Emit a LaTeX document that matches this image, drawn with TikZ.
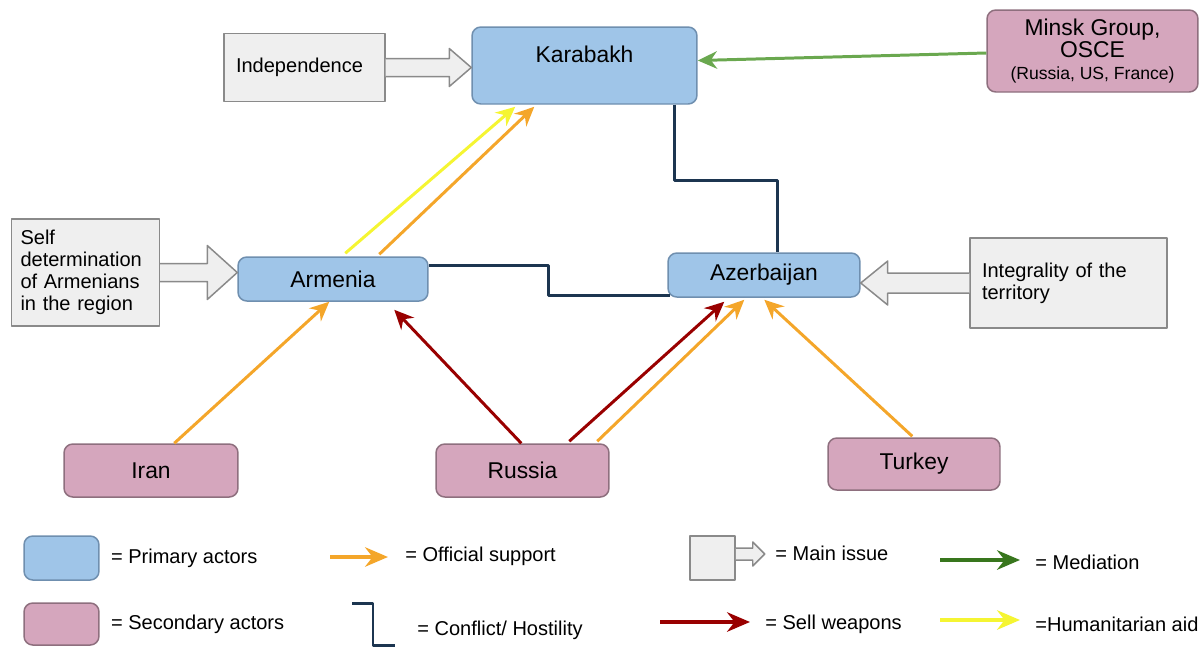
\documentclass[tikz,border=0pt]{standalone}
\usepackage{fontspec}
\setmainfont{Liberation Sans}
\usetikzlibrary{arrows.meta,calc,positioning}
\definecolor{primfill}{HTML}{9FC5E8}
\definecolor{primline}{HTML}{6F8FAF}
\definecolor{secfill}{HTML}{D5A6BD}
\definecolor{secline}{HTML}{8E6F7E}
\definecolor{issuefill}{HTML}{EFEFEF}
\definecolor{issueline}{HTML}{8A8A8A}
\definecolor{suporange}{HTML}{F4A62A}
\definecolor{weaponred}{HTML}{990000}
\definecolor{aidyellow}{HTML}{F5F532}
\definecolor{medgreen}{HTML}{6AA84F}
\definecolor{medgreendark}{HTML}{38761D}
\definecolor{conflictblue}{HTML}{1C3550}

% block arrow of a main issue: from, tip, direction (1 right, -1 left), shaft half, head half, head length
\newcommand{\issuearrow}[6]{%
  \draw[issue] ($(#1)+(0,-#4)$) -- ($(#2)+(-#6*#3,-#4)$) -- ($(#2)+(-#6*#3,-#5)$) -- (#2)
    -- ($(#2)+(-#6*#3,#5)$) -- ($(#2)+(-#6*#3,#4)$) -- ($(#1)+(0,#4)$);}

\begin{document}
\begin{tikzpicture}[
  x=0.02cm, y=-0.02cm, line join=round,
  every node/.style={font=\fontsize{11.4}{12.6}\selectfont},
  primary/.style  ={draw=primline, fill=primfill, rounded corners=5pt, line width=0.85pt, font=\fontsize{13}{12.5}\selectfont},
  secondary/.style={draw=secline, fill=secfill, rounded corners=5pt, line width=0.85pt, font=\fontsize{13}{12.5}\selectfont},
  issuebox/.style ={draw=issueline, fill=issuefill, line width=0.85pt, align=left, inner xsep=0.24cm},
  issue/.style    ={draw=issueline, fill=issuefill, line width=0.85pt},
  legendtxt/.style={inner sep=0pt, anchor=west},
  support/.style  ={suporange, line width=1.7pt, -{Stealth[length=11pt,width=10pt]}},
  weapon/.style   ={weaponred, line width=1.7pt, -{Stealth[length=11pt,width=10pt]}},
  aid/.style      ={aidyellow, line width=1.7pt, -{Stealth[length=11pt,width=10pt]}},
  mediation/.style={medgreen, line width=1.7pt, -{Stealth[length=11pt,width=10pt]}},
  conflict/.style ={conflictblue, line width=1.7pt},
  lgarrow/.style  ={line width=2.4pt, -{Stealth[length=13pt,width=11pt]}}
]
\useasboundingbox (0,0) rectangle (1203,647);

% --- actors
\node[primary, minimum width=4.5cm, minimum height=1.54cm, text depth=13pt] (karabakh) at (584.5,65.5) {Karabakh};
\node[primary, minimum width=3.8cm, minimum height=0.88cm] (armenia) at (333,279) {Armenia};
\node[primary, minimum width=3.84cm, minimum height=0.88cm] (azerbaijan) at (764,275) {Azerbaijan};
\node[secondary, minimum width=4.22cm, minimum height=1.64cm, align=center] (minsk) at (1092.5,51)
  {Minsk Group,\\OSCE\\{\fontsize{10}{12}\selectfont (Russia, US, France)}};
\node[secondary, minimum width=3.48cm, minimum height=1.06cm] (iran) at (151,470.5) {Iran};
\node[secondary, minimum width=3.46cm, minimum height=1.06cm] (russia) at (522.5,470.5) {Russia};
\node[secondary, minimum width=3.44cm, minimum height=1.04cm] (turkey) at (914,464) {Turkey};

% --- main issues
\node[issuebox, minimum width=3.22cm, minimum height=1.36cm, text width=2.74cm] (indep) at (304.5,67.5) {Independence};
\node[issuebox, minimum width=2.96cm, minimum height=2.14cm, text width=2.6cm, inner xsep=0.18cm] (selfdet) at (85.5,272.5)
  {Self\\determination\\of Armenians\\in the region};
\node[issuebox, minimum width=3.94cm, minimum height=1.8cm, text width=3.46cm] (integr) at (1068.5,283)
  {Integrality of the\\territory};

\coordinate (indeptip) at (karabakh.west |- indep.east);
\coordinate (selftip) at (armenia.west |- selfdet.east);
\coordinate (integtip) at (azerbaijan.east |- integr.west);
\issuearrow{indep.east}{indeptip}{1}{9}{19}{22}
\issuearrow{selfdet.east}{selftip}{1}{9}{27}{30}
\issuearrow{integr.west}{integtip}{-1}{10}{22}{27}

% --- hostility
\draw[conflict] ($(karabakh.south west)+(203,0)$) -- ++(0,76) -| ($(azerbaijan.north west)+(110,0)$);
\draw[conflict] ($(armenia.north east)+(0,9)$) -- ++(120,0) |- ($(azerbaijan.south west)+(3,-2)$);

% --- support, weapons, aid, mediation
\draw[aid]     ($(armenia.north west)+(108,-3)$) -- ($(karabakh.south west)+(44,2)$);
\draw[support] ($(armenia.north west)+(142,-2)$) -- ($(karabakh.south west)+(63,2)$);
\draw[support] ($(iran.north west)+(111,0)$) -- ($(armenia.south west)+(92,0)$);
\draw[weapon]  ($(russia.north west)+(86,0)$) -- ($(armenia.south west)+(157,8)$);
\draw[weapon]  ($(russia.north west)+(134,-2)$) -- ($(azerbaijan.south west)+(57,4)$);
\draw[support] ($(russia.north west)+(162,-2)$) -- ($(azerbaijan.south west)+(77,2)$);
\draw[support] ($(turkey.north west)+(85,-1)$) -- ($(azerbaijan.south west)+(97,2)$);
\draw[mediation] ($(minsk.west)+(0,2)$) -- ($(karabakh.east)+(0,-5)$);

% --- legend
\node[primary, minimum width=1.5cm, minimum height=0.88cm] (lgprim) at (61.5,558) {};
\node[legendtxt, right=0.22cm of lgprim] (lgprimtxt) {= Primary actors};
\node[secondary, minimum width=1.5cm, minimum height=0.84cm] (lgsec) at (61.5,624) {};
\node[legendtxt, right=0.22cm of lgsec] (lgsectxt) {= Secondary actors};

\node[legendtxt] (lgsuptxt) at (405,556) {= Official support};
\coordinate (lgsup) at (330,557);
\draw[support, lgarrow] (lgsup) -- ($(lgsuptxt.west)+(-17,1)$);

\node[legendtxt] (lgconftxt) at (417,630) {= Conflict/ Hostility};
\coordinate (lgconf) at (352,603);
\draw[conflict] (lgconf) -| ($(lgconftxt.west)+(-44,15)$) -- ++(22,0);

\node[issuebox, minimum width=0.9cm, minimum height=0.88cm] (lgissue) at (712.5,558) {};
\coordinate (lgissuefrom) at ($(lgissue.east)+(0,-4)$);
\coordinate (lgissuetip) at ($(lgissuefrom)+(29,0)$);
\issuearrow{lgissuefrom}{lgissuetip}{1}{6}{12}{12}
\node[legendtxt] (lgissuetxt) at (775,553) {= Main issue};

\node[legendtxt] (lgmedtxt) at (1035,562) {= Mediation};
\coordinate (lgmed) at (940,560);
\draw[medgreendark, lgarrow] (lgmed) -- ($(lgmedtxt.west)+(-15,-2)$);

\node[legendtxt] (lgweptxt) at (765,624) {= Sell weapons};
\coordinate (lgwep) at (660,622);
\draw[weaponred, lgarrow] (lgwep) -- ($(lgweptxt.west)+(-15,-2)$);

\node[legendtxt] (lgaidtxt) at (1035,624) {=Humanitarian aid};
\coordinate (lgaid) at (940,620);
\draw[aidyellow, lgarrow] (lgaid) -- ($(lgaidtxt.west)+(-15,-4)$);

\end{tikzpicture}
\end{document}
